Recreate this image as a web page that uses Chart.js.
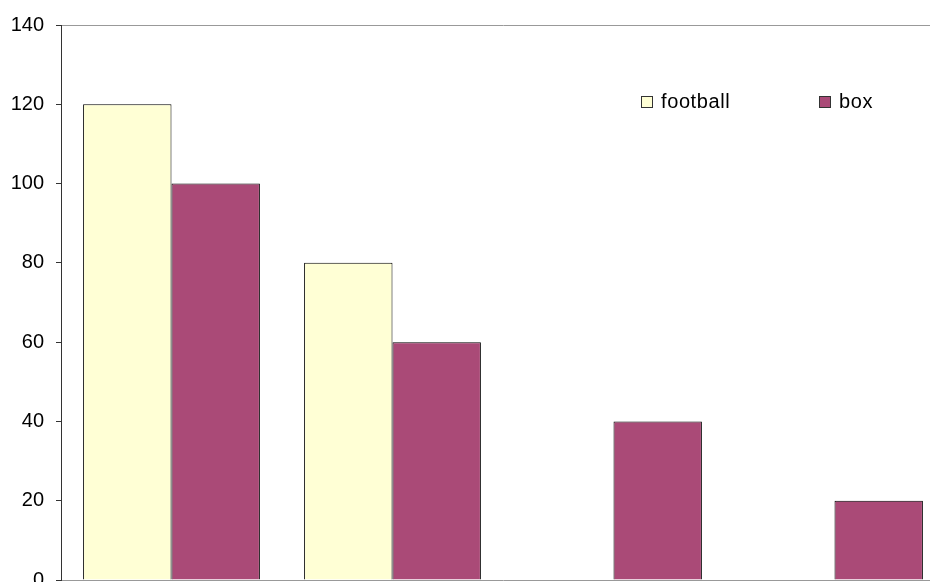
<!DOCTYPE html>
<html>
<head>
<meta charset="utf-8">
<script src="https://cdn.jsdelivr.net/npm/chart.js@4/dist/chart.umd.min.js"></script>
<style>
  html, body { margin: 0; padding: 0; background: #fff; overflow: hidden; width: 930px; height: 582px; }
  canvas { display: block; }
</style>
</head>
<body>
<canvas id="chart" width="950" height="604" style="width:950px;height:604px"></canvas>
<script>
// Data
const categories = ['1', '2', '3', '4'];
const football = [120, 80, null, null];
const box = [100, 60, 40, 20];
const yTicks = [0, 20, 40, 60, 80, 100, 120, 140];

const FONT = '"Liberation Sans", Arial, sans-serif';
Chart.defaults.color = '#000';
Chart.defaults.font.family = FONT;

// Legend drawn inside the plot area, top right
const insideLegend = {
  id: 'insideLegend',
  afterDraw(chart) {
    const { ctx, chartArea } = chart;
    const startX = chartArea.left + 580;
    const gap = 178;
    const top = chartArea.top + 71;
    const size = 11;
    ctx.save();
    ctx.font = '20px ' + FONT;
    if ('letterSpacing' in ctx) ctx.letterSpacing = '0.6px';
    ctx.textBaseline = 'middle';
    ctx.textAlign = 'left';
    chart.data.datasets.forEach((ds, i) => {
      const x = startX + i * gap;
      ctx.fillStyle = ds.backgroundColor;
      ctx.fillRect(x + 0.5, top + 0.5, size, size);
      ctx.strokeStyle = '#333';
      ctx.lineWidth = 1;
      ctx.strokeRect(x + 0.5, top + 0.5, size, size);
      ctx.fillStyle = '#000';
      ctx.fillText(ds.label, x + 20, top + 6);
    });
    ctx.restore();
  }
};

new Chart(document.getElementById('chart'), {
  type: 'bar',
  data: {
    labels: categories,
    datasets: [
      {
        label: 'football',
        data: football,
        backgroundColor: '#FFFFD5',
        borderColor: '#000',
        borderWidth: 1,
        borderSkipped: 'bottom'
      },
      {
        label: 'box',
        data: box,
        backgroundColor: '#AA4A77',
        borderColor: '#000',
        borderWidth: 1,
        borderSkipped: 'bottom'
      }
    ]
  },
  options: {
    responsive: false,
    animation: false,
    devicePixelRatio: 1,
    layout: { padding: { top: 25, left: 0, right: 5, bottom: 17 } },
    datasets: { bar: { categoryPercentage: 0.8, barPercentage: 1.0 } },
    plugins: {
      legend: { display: false },
      tooltip: { enabled: false }
    },
    scales: {
      x: {
        ticks: { display: false },
        grid: { display: false },
        border: { display: true, color: '#999', width: 1 },
        afterFit(scale) { scale.height = 0; }
      },
      y: {
        min: 0,
        max: 140,
        afterBuildTicks(scale) { scale.ticks = yTicks.map(v => ({ value: v })); },
        ticks: {
          padding: 12,
          font: { size: 20, family: FONT },
          color: '#000'
        },
        grid: {
          drawOnChartArea: true,
          drawTicks: true,
          tickLength: 5,
          tickColor: '#333',
          color: (c) => (c.tick && c.tick.value === 140) ? '#999' : 'rgba(0,0,0,0)'
        },
        border: { display: true, color: '#333', width: 1 },
        afterFit(scale) { scale.width = 61; }
      }
    }
  },
  plugins: [insideLegend]
});
</script>
</body>
</html>
